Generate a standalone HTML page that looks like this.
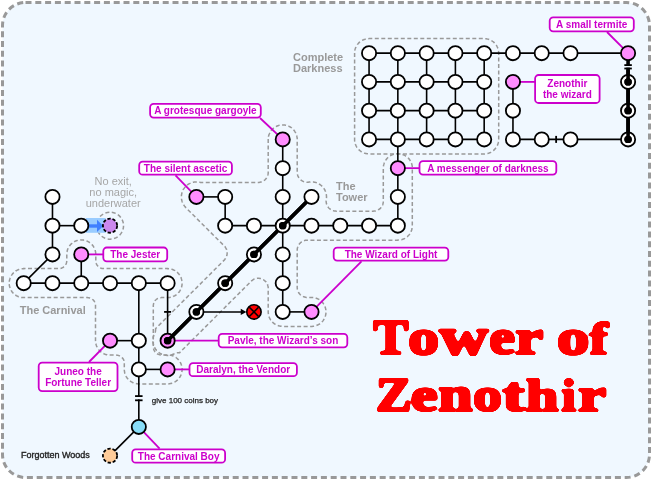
<!DOCTYPE html>
<html><head><meta charset="utf-8"><style>
html,body{margin:0;padding:0;background:#fff;}
svg{display:block;will-change:transform;}
.lb{font-family:"Liberation Sans",sans-serif;font-weight:bold;font-size:10px;fill:#cc00cc;}
.rg{font-family:"Liberation Sans",sans-serif;font-weight:bold;font-size:11px;fill:#999;}
.nx{font-family:"Liberation Sans",sans-serif;font-size:11px;fill:#a6a6a6;text-anchor:middle;}
.sm{font-family:"Liberation Sans",sans-serif;font-size:8px;fill:#222;stroke:#222;stroke-width:0.25;}
.fw{font-family:"Liberation Sans",sans-serif;font-size:9px;fill:#222;stroke:#222;stroke-width:0.35;}
.tt{font-family:"Liberation Serif",serif;font-weight:bold;font-size:49px;fill:#ff0000;stroke:#ff0000;stroke-width:2.6;stroke-linejoin:round;}
</style></head><body>
<svg width="652" height="480" viewBox="0 0 652 480">
<rect x="2.5" y="2.5" width="647" height="475" rx="23" fill="#f0f8ff" stroke="#999" stroke-width="3" stroke-dasharray="6 3.8"/>
<path d="M354.6 53.1 L354.6 139.4 L354.6 140.1 L354.6 140.8 L354.7 141.5 L354.8 142.2 L355.0 142.9 L355.2 143.6 L355.4 144.3 L355.7 144.9 L356.0 145.6 L356.3 146.2 L356.6 146.9 L357.0 147.5 L357.4 148.0 L357.9 148.6 L358.3 149.1 L358.8 149.7 L359.3 150.1 L359.9 150.6 L360.4 151.0 L361.0 151.5 L361.6 151.8 L362.2 152.2 L362.9 152.5 L363.5 152.8 L364.2 153.1 L364.9 153.3 L365.5 153.5 L366.2 153.6 L366.9 153.7 L367.6 153.8 L368.3 153.9 L369.1 153.9 L484.2 153.9 L484.9 153.9 L485.6 153.8 L486.3 153.7 L487.0 153.6 L487.7 153.5 L488.4 153.3 L489.1 153.1 L489.7 152.8 L490.4 152.5 L491.0 152.2 L491.6 151.8 L492.2 151.5 L492.8 151.0 L493.4 150.6 L493.9 150.1 L494.4 149.7 L494.9 149.1 L495.4 148.6 L495.8 148.0 L496.2 147.5 L496.6 146.9 L497.0 146.2 L497.3 145.6 L497.6 144.9 L497.8 144.3 L498.1 143.6 L498.2 142.9 L498.4 142.2 L498.5 141.5 L498.6 140.8 L498.7 140.1 L498.7 139.4 L498.7 53.1 L498.7 52.4 L498.6 51.7 L498.5 51.0 L498.4 50.3 L498.2 49.6 L498.1 48.9 L497.8 48.3 L497.6 47.6 L497.3 47.0 L497.0 46.3 L496.6 45.7 L496.2 45.1 L495.8 44.5 L495.4 44.0 L494.9 43.4 L494.4 42.9 L493.9 42.4 L493.4 41.9 L492.8 41.5 L492.2 41.1 L491.6 40.7 L491.0 40.4 L490.4 40.0 L489.7 39.8 L489.1 39.5 L488.4 39.3 L487.7 39.1 L487.0 38.9 L486.3 38.8 L485.6 38.7 L484.9 38.7 L484.2 38.6 L369.1 38.6 L368.3 38.7 L367.6 38.7 L366.9 38.8 L366.2 38.9 L365.5 39.1 L364.9 39.3 L364.2 39.5 L363.5 39.8 L362.9 40.0 L362.2 40.4 L361.6 40.7 L361.0 41.1 L360.4 41.5 L359.9 41.9 L359.3 42.4 L358.8 42.9 L358.3 43.4 L357.9 44.0 L357.4 44.5 L357.0 45.1 L356.6 45.7 L356.3 46.3 L356.0 47.0 L355.7 47.6 L355.4 48.3 L355.2 48.9 L355.0 49.6 L354.8 50.3 L354.7 51.0 L354.6 51.7 L354.6 52.4 L354.6 53.1 Z" fill="none" stroke="#999999" stroke-width="1.5" stroke-dasharray="4 2.5"/>
<path d="M155.6 328.7 L155.6 329.1 L155.6 329.5 L155.6 330.0 L155.5 330.5 L155.5 331.0 L155.4 331.5 L155.2 332.0 L155.1 332.4 L154.9 332.9 L154.8 333.3 L154.5 333.8 L154.3 334.2 L154.2 334.5 L154.0 334.9 L153.9 335.1 L153.8 335.6 L153.7 335.8 L153.5 336.3 L153.5 336.5 L153.3 336.9 L153.3 337.2 L153.2 337.7 L153.1 337.9 L153.0 338.4 L153.0 338.6 L152.9 339.1 L152.9 339.3 L152.9 339.8 L152.9 340.0 L152.9 340.5 L152.9 340.8 L152.9 341.3 L152.9 341.5 L152.9 342.0 L152.9 342.2 L153.0 342.7 L153.0 342.9 L153.1 343.4 L153.2 343.6 L153.3 344.1 L153.3 344.4 L153.5 344.8 L153.5 345.0 L153.7 345.5 L153.8 345.7 L153.9 346.2 L154.0 346.4 L154.2 346.8 L154.3 347.1 L154.5 347.5 L154.7 347.7 L154.9 348.1 L155.0 348.3 L155.3 348.7 L155.4 348.9 L155.7 349.3 L155.8 349.5 L156.1 349.9 L156.3 350.1 L156.6 350.5 L156.8 350.6 L157.1 351.0 L157.3 351.2 L157.6 351.5 L157.8 351.7 L158.1 352.0 L158.3 352.1 L158.7 352.4 L158.9 352.6 L159.3 352.8 L159.5 353.0 L159.9 353.2 L160.1 353.4 L160.5 353.6 L160.8 353.7 L161.2 353.9 L161.4 354.0 L161.8 354.2 L162.1 354.3 L162.5 354.5 L162.7 354.6 L163.2 354.7 L163.4 354.8 L163.9 354.9 L164.1 355.0 L164.6 355.1 L164.8 355.1 L165.3 355.2 L165.6 355.3 L166.0 355.3 L166.3 355.3 L166.8 355.4 L167.0 355.4 L167.5 355.4 L167.7 355.4 L168.2 355.4 L168.4 355.4 L168.9 355.3 L169.2 355.3 L169.6 355.3 L169.9 355.2 L170.4 355.1 L170.6 355.1 L171.1 355.0 L171.3 354.9 L171.8 354.8 L172.0 354.7 L172.5 354.6 L172.7 354.5 L173.1 354.3 L173.4 354.2 L173.8 354.0 L174.0 353.9 L174.4 353.7 L174.9 353.5 L175.3 353.3 L175.8 353.2 L176.3 353.0 L176.7 352.9 L177.2 352.8 L177.7 352.7 L178.2 352.7 L178.7 352.7 L179.2 352.7 L179.6 352.7 L179.6 352.7 L179.7 352.6 L251.2 281.2 L251.5 280.9 L251.9 280.6 L252.3 280.3 L252.7 280.0 L253.1 279.7 L253.5 279.5 L253.9 279.2 L254.4 279.0 L254.9 278.9 L255.3 278.7 L255.8 278.6 L256.3 278.5 L256.8 278.4 L257.2 278.3 L257.7 278.3 L258.2 278.3 L258.7 278.3 L259.2 278.3 L259.7 278.4 L260.2 278.5 L260.7 278.6 L261.1 278.7 L261.6 278.9 L262.0 279.1 L262.5 279.2 L262.9 279.5 L263.4 279.7 L263.8 280.0 L264.2 280.3 L264.6 280.6 L264.9 280.9 L265.3 281.2 L265.6 281.6 L266.0 281.9 L266.3 282.3 L266.5 282.7 L266.8 283.1 L267.0 283.6 L267.3 284.0 L267.5 284.5 L267.6 284.9 L267.8 285.4 L267.9 285.9 L268.0 286.3 L268.1 286.8 L268.2 287.3 L268.2 287.8 L268.2 288.3 L268.2 311.8 L268.2 312.0 L268.2 312.5 L268.2 312.7 L268.3 313.2 L268.3 313.4 L268.4 313.9 L268.4 314.1 L268.5 314.6 L268.5 314.8 L268.6 315.3 L268.7 315.5 L268.8 316.0 L268.9 316.2 L269.0 316.7 L269.1 316.9 L269.3 317.3 L269.4 317.6 L269.6 318.0 L269.7 318.2 L269.9 318.6 L270.0 318.8 L270.2 319.2 L270.3 319.5 L270.6 319.9 L270.7 320.1 L271.0 320.4 L271.1 320.6 L271.4 321.0 L271.6 321.2 L271.9 321.5 L272.1 321.7 L272.4 322.1 L272.6 322.2 L272.9 322.6 L273.1 322.7 L273.4 323.0 L273.6 323.2 L274.0 323.5 L274.2 323.6 L274.6 323.9 L274.8 324.0 L275.2 324.3 L275.4 324.4 L275.8 324.6 L276.0 324.7 L276.4 325.0 L276.6 325.1 L277.1 325.2 L277.3 325.3 L277.7 325.5 L278.0 325.6 L278.4 325.7 L278.6 325.8 L279.1 325.9 L279.3 326.0 L279.8 326.1 L280.0 326.1 L280.5 326.2 L280.7 326.3 L281.2 326.3 L281.4 326.3 L281.9 326.4 L282.1 326.4 L282.7 326.4 L282.8 326.4 L311.4 326.4 L311.6 326.4 L312.1 326.4 L312.3 326.4 L312.8 326.3 L313.0 326.3 L313.5 326.3 L313.7 326.2 L314.2 326.1 L314.4 326.1 L314.9 326.0 L315.1 325.9 L315.6 325.8 L315.8 325.7 L316.3 325.6 L316.5 325.5 L316.9 325.3 L317.2 325.2 L317.6 325.1 L317.8 325.0 L318.2 324.7 L318.4 324.6 L318.8 324.4 L319.1 324.3 L319.5 324.0 L319.7 323.9 L320.0 323.6 L320.2 323.5 L320.6 323.2 L320.8 323.0 L321.1 322.7 L321.3 322.6 L321.7 322.2 L321.8 322.1 L322.2 321.7 L322.3 321.5 L322.6 321.2 L322.8 321.0 L323.1 320.6 L323.2 320.4 L323.5 320.1 L323.6 319.9 L323.9 319.5 L324.0 319.2 L324.2 318.8 L324.3 318.6 L324.6 318.2 L324.7 318.0 L324.8 317.6 L324.9 317.3 L325.1 316.9 L325.2 316.7 L325.3 316.2 L325.4 316.0 L325.5 315.5 L325.6 315.3 L325.7 314.8 L325.7 314.6 L325.8 314.1 L325.9 313.9 L325.9 313.4 L325.9 313.2 L326.0 312.7 L326.0 312.5 L326.0 312.0 L326.0 311.8 L326.0 311.3 L326.0 311.1 L325.9 310.6 L325.9 310.4 L325.9 309.9 L325.8 309.7 L325.7 309.2 L325.7 309.0 L325.6 308.5 L325.5 308.3 L325.4 307.8 L325.3 307.6 L325.2 307.1 L325.1 306.9 L324.9 306.5 L324.8 306.2 L324.7 305.8 L324.6 305.6 L324.3 305.2 L324.2 305.0 L324.0 304.6 L323.9 304.3 L323.6 303.9 L323.5 303.7 L323.2 303.4 L323.1 303.2 L322.8 302.8 L322.6 302.6 L322.3 302.3 L322.2 302.1 L321.8 301.7 L321.7 301.6 L321.3 301.2 L321.1 301.1 L320.8 300.8 L320.6 300.6 L320.2 300.3 L320.0 300.2 L319.7 299.9 L319.5 299.8 L319.1 299.5 L318.8 299.4 L318.4 299.2 L318.2 299.1 L317.8 298.8 L317.6 298.7 L317.2 298.6 L316.9 298.5 L316.5 298.3 L316.3 298.2 L315.8 298.1 L315.6 298.0 L315.1 297.9 L314.9 297.8 L314.4 297.7 L314.2 297.7 L313.7 297.6 L313.5 297.5 L313.0 297.5 L312.8 297.5 L312.3 297.4 L312.1 297.4 L311.6 297.4 L311.4 297.4 L307.2 297.4 L306.7 297.4 L306.2 297.4 L305.8 297.3 L305.3 297.2 L304.8 297.1 L304.3 297.0 L303.9 296.8 L303.4 296.6 L302.9 296.4 L302.5 296.2 L302.1 296.0 L301.7 295.7 L301.3 295.4 L300.9 295.1 L300.5 294.8 L300.1 294.5 L299.8 294.1 L299.5 293.7 L299.2 293.4 L298.9 293.0 L298.6 292.5 L298.4 292.1 L298.2 291.7 L298.0 291.2 L297.8 290.8 L297.7 290.3 L297.5 289.8 L297.4 289.4 L297.3 288.9 L297.3 288.4 L297.2 287.9 L297.2 287.4 L297.2 250.2 L297.2 249.7 L297.3 249.2 L297.3 248.7 L297.4 248.2 L297.5 247.7 L297.7 247.2 L297.8 246.8 L298.0 246.3 L298.2 245.9 L298.4 245.4 L298.6 245.0 L298.9 244.6 L299.2 244.2 L299.5 243.8 L299.8 243.4 L300.1 243.1 L300.5 242.7 L300.9 242.4 L301.3 242.1 L301.7 241.8 L302.1 241.6 L302.5 241.3 L302.9 241.1 L303.4 240.9 L303.9 240.7 L304.3 240.6 L304.8 240.4 L305.3 240.3 L305.8 240.3 L306.2 240.2 L306.7 240.2 L307.2 240.2 L397.8 240.2 L397.9 240.1 L398.4 240.1 L398.7 240.1 L399.1 240.1 L399.4 240.1 L399.8 240.0 L400.1 240.0 L400.5 239.9 L400.8 239.8 L401.2 239.7 L401.5 239.7 L401.9 239.6 L402.2 239.5 L402.6 239.3 L402.8 239.3 L403.3 239.1 L403.5 239.0 L403.9 238.8 L404.1 238.7 L404.6 238.5 L404.8 238.4 L405.2 238.1 L405.4 238.0 L405.8 237.8 L406.0 237.6 L406.4 237.4 L406.6 237.2 L406.9 236.9 L407.1 236.8 L407.5 236.5 L407.7 236.3 L408.0 236.0 L408.2 235.8 L408.5 235.5 L408.7 235.3 L409.0 234.9 L409.1 234.8 L409.4 234.4 L409.6 234.2 L409.8 233.8 L410.0 233.6 L410.2 233.2 L410.3 233.0 L410.6 232.6 L410.7 232.4 L410.9 232.0 L411.0 231.7 L411.2 231.3 L411.3 231.1 L411.4 230.6 L411.5 230.4 L411.7 230.0 L411.7 229.7 L411.9 229.3 L411.9 229.1 L412.0 228.6 L412.1 228.4 L412.2 227.9 L412.2 227.7 L412.3 227.2 L412.3 226.9 L412.3 226.5 L412.3 226.2 L412.3 225.7 L412.3 225.6 L412.3 168.2 L412.3 168.1 L412.3 167.6 L412.3 167.3 L412.3 166.9 L412.3 166.6 L412.2 166.1 L412.2 165.9 L412.1 165.4 L412.0 165.2 L411.9 164.7 L411.9 164.5 L411.7 164.1 L411.7 163.8 L411.5 163.4 L411.4 163.2 L411.3 162.7 L411.2 162.5 L411.0 162.1 L410.9 161.8 L410.7 161.4 L410.6 161.2 L410.3 160.8 L410.2 160.6 L410.0 160.2 L409.8 160.0 L409.6 159.6 L409.4 159.4 L409.1 159.0 L409.0 158.9 L408.7 158.5 L408.5 158.3 L408.2 158.0 L408.0 157.8 L407.7 157.5 L407.5 157.3 L407.1 157.0 L406.9 156.9 L406.6 156.6 L406.4 156.4 L406.0 156.2 L405.8 156.0 L405.4 155.8 L405.2 155.7 L404.8 155.4 L404.6 155.3 L404.1 155.1 L403.9 155.0 L403.5 154.8 L403.3 154.7 L402.8 154.5 L402.6 154.5 L402.2 154.3 L401.9 154.2 L401.5 154.1 L401.2 154.1 L400.8 154.0 L400.5 153.9 L400.1 153.8 L399.8 153.8 L399.4 153.7 L399.1 153.7 L398.7 153.7 L398.4 153.7 L398.0 153.7 L397.7 153.7 L397.3 153.7 L397.0 153.7 L396.5 153.7 L396.3 153.7 L395.8 153.8 L395.6 153.8 L395.1 153.9 L394.9 154.0 L394.4 154.1 L394.2 154.1 L393.7 154.2 L393.5 154.3 L393.1 154.5 L392.8 154.5 L392.4 154.7 L392.2 154.8 L391.8 155.0 L391.5 155.1 L391.1 155.3 L390.9 155.4 L390.5 155.7 L390.3 155.8 L389.9 156.0 L389.7 156.2 L389.3 156.4 L389.1 156.6 L388.7 156.9 L388.5 157.0 L388.2 157.3 L388.0 157.5 L387.7 157.8 L387.5 158.0 L387.2 158.3 L387.0 158.5 L386.7 158.9 L386.6 159.0 L386.3 159.4 L386.1 159.6 L385.9 160.0 L385.7 160.2 L385.5 160.6 L385.3 160.8 L385.1 161.2 L385.0 161.4 L384.8 161.8 L384.7 162.1 L384.5 162.5 L384.4 162.7 L384.2 163.2 L384.1 163.4 L384.0 163.8 L383.9 164.1 L383.8 164.5 L383.7 164.7 L383.6 165.2 L383.6 165.4 L383.5 165.9 L383.5 166.1 L383.4 166.6 L383.4 166.9 L383.4 167.3 L383.4 167.6 L383.3 168.1 L383.3 168.2 L383.3 201.2 L383.3 201.6 L383.3 202.1 L383.2 202.6 L383.1 203.1 L383.0 203.6 L382.9 204.1 L382.8 204.5 L382.6 205.0 L382.4 205.4 L382.2 205.9 L381.9 206.3 L381.7 206.7 L381.4 207.1 L381.1 207.5 L380.7 207.9 L380.4 208.2 L380.1 208.6 L379.7 208.9 L379.3 209.2 L378.9 209.5 L378.5 209.7 L378.1 210.0 L377.6 210.2 L377.2 210.4 L376.7 210.6 L376.2 210.7 L375.8 210.9 L375.3 211.0 L374.8 211.0 L374.3 211.1 L373.8 211.1 L373.3 211.2 L336.1 211.2 L335.6 211.1 L335.2 211.1 L334.7 211.0 L334.2 211.0 L333.7 210.9 L333.3 210.7 L332.8 210.6 L332.4 210.4 L331.9 210.2 L331.5 210.0 L331.1 209.8 L330.6 209.5 L330.2 209.2 L329.9 208.9 L329.5 208.6 L329.1 208.3 L328.8 208.0 L328.5 207.6 L328.2 207.2 L327.9 206.8 L327.6 206.4 L327.4 206.0 L327.2 205.6 L327.0 205.1 L326.8 204.7 L326.6 204.2 L326.5 203.8 L326.4 203.3 L326.3 202.8 L326.2 202.3 L326.2 201.9 L326.1 201.4 L326.1 200.9 L326.2 200.4 L326.2 199.9 L326.3 199.4 L326.3 199.2 L326.4 199.0 L326.4 198.5 L326.4 198.2 L326.5 197.8 L326.5 197.5 L326.5 197.0 L326.5 196.8 L326.5 196.3 L326.5 196.0 L326.4 195.6 L326.4 195.3 L326.4 194.8 L326.3 194.6 L326.2 194.1 L326.2 193.9 L326.1 193.4 L326.0 193.1 L325.9 192.7 L325.8 192.4 L325.7 192.0 L325.6 191.7 L325.4 191.3 L325.3 191.0 L325.1 190.6 L325.0 190.4 L324.8 189.9 L324.7 189.7 L324.4 189.3 L324.3 189.1 L324.0 188.7 L323.9 188.5 L323.6 188.1 L323.5 187.9 L323.2 187.5 L323.0 187.3 L322.7 186.9 L322.5 186.7 L322.2 186.4 L322.0 186.2 L321.7 185.9 L321.5 185.7 L321.1 185.4 L320.9 185.2 L320.5 184.9 L320.3 184.8 L319.9 184.5 L319.7 184.4 L319.3 184.1 L319.1 184.0 L318.7 183.7 L318.5 183.6 L318.0 183.4 L317.8 183.3 L317.4 183.1 L317.1 183.0 L316.7 182.8 L316.4 182.7 L316.0 182.6 L315.7 182.5 L315.3 182.4 L315.0 182.3 L314.5 182.2 L314.3 182.2 L313.8 182.1 L313.6 182.0 L313.1 182.0 L312.8 182.0 L312.4 181.9 L312.1 181.9 L311.6 181.9 L311.4 181.9 L310.9 181.9 L310.6 181.9 L310.2 182.0 L309.9 182.0 L309.4 182.0 L309.2 182.1 L308.9 182.1 L308.4 182.2 L307.9 182.2 L307.4 182.3 L306.9 182.3 L306.4 182.2 L306.0 182.2 L305.5 182.1 L305.0 182.0 L304.5 181.9 L304.0 181.7 L303.5 181.6 L303.1 181.4 L302.6 181.2 L302.2 180.9 L301.8 180.7 L301.4 180.4 L301.0 180.1 L300.6 179.8 L300.2 179.4 L299.9 179.1 L299.6 178.7 L299.2 178.3 L299.0 177.9 L298.7 177.5 L298.4 177.0 L298.2 176.6 L298.0 176.2 L297.8 175.7 L297.7 175.2 L297.5 174.7 L297.4 174.3 L297.3 173.8 L297.3 173.3 L297.2 172.8 L297.2 172.3 L297.2 139.5 L297.2 139.3 L297.2 138.8 L297.2 138.6 L297.2 138.1 L297.1 137.9 L297.1 137.4 L297.0 137.2 L297.0 136.7 L296.9 136.5 L296.8 136.0 L296.8 135.8 L296.6 135.3 L296.6 135.1 L296.4 134.6 L296.3 134.4 L296.2 134.0 L296.1 133.7 L295.9 133.3 L295.8 133.1 L295.6 132.7 L295.4 132.5 L295.2 132.1 L295.1 131.8 L294.8 131.4 L294.7 131.2 L294.4 130.9 L294.3 130.7 L294.0 130.3 L293.8 130.1 L293.5 129.8 L293.4 129.6 L293.1 129.2 L292.9 129.1 L292.5 128.7 L292.4 128.6 L292.0 128.3 L291.8 128.1 L291.5 127.8 L291.3 127.7 L290.9 127.4 L290.7 127.3 L290.3 127.0 L290.1 126.9 L289.7 126.7 L289.4 126.6 L289.0 126.3 L288.8 126.2 L288.4 126.1 L288.2 126.0 L287.7 125.8 L287.5 125.7 L287.0 125.6 L286.8 125.5 L286.4 125.4 L286.1 125.3 L285.7 125.2 L285.4 125.2 L285.0 125.1 L284.7 125.0 L284.3 125.0 L284.0 125.0 L283.6 124.9 L283.3 124.9 L282.8 124.9 L282.6 124.9 L282.1 124.9 L281.9 124.9 L281.4 125.0 L281.2 125.0 L280.7 125.0 L280.5 125.1 L280.0 125.2 L279.8 125.2 L279.3 125.3 L279.1 125.4 L278.6 125.5 L278.4 125.6 L278.0 125.7 L277.7 125.8 L277.3 126.0 L277.1 126.1 L276.6 126.2 L276.4 126.3 L276.0 126.6 L275.8 126.7 L275.4 126.9 L275.2 127.0 L274.8 127.3 L274.6 127.4 L274.2 127.7 L274.0 127.8 L273.6 128.1 L273.4 128.3 L273.1 128.6 L272.9 128.7 L272.6 129.1 L272.4 129.2 L272.1 129.6 L271.9 129.8 L271.6 130.1 L271.4 130.3 L271.1 130.7 L271.0 130.9 L270.7 131.2 L270.6 131.4 L270.3 131.8 L270.2 132.1 L270.0 132.5 L269.9 132.7 L269.7 133.1 L269.6 133.3 L269.4 133.7 L269.3 134.0 L269.1 134.4 L269.0 134.6 L268.9 135.1 L268.8 135.3 L268.7 135.8 L268.6 136.0 L268.5 136.5 L268.5 136.7 L268.4 137.2 L268.4 137.4 L268.3 137.9 L268.3 138.1 L268.2 138.6 L268.2 138.8 L268.2 139.3 L268.2 139.5 L268.2 172.4 L268.2 172.9 L268.2 173.4 L268.1 173.9 L268.0 174.4 L267.9 174.8 L267.8 175.3 L267.6 175.8 L267.5 176.2 L267.3 176.7 L267.0 177.1 L266.8 177.5 L266.5 178.0 L266.3 178.4 L266.0 178.7 L265.6 179.1 L265.3 179.5 L264.9 179.8 L264.6 180.1 L264.2 180.4 L263.8 180.7 L263.4 181.0 L262.9 181.2 L262.5 181.4 L262.0 181.6 L261.6 181.8 L261.1 182.0 L260.6 182.1 L260.2 182.2 L259.7 182.3 L259.2 182.4 L258.7 182.4 L258.2 182.4 L201.3 182.4 L200.9 182.4 L200.4 182.4 L199.9 182.3 L199.4 182.2 L199.2 182.2 L198.7 182.1 L198.5 182.0 L198.0 182.0 L197.7 182.0 L197.2 181.9 L197.0 181.9 L196.5 181.9 L196.2 181.9 L195.8 181.9 L195.5 181.9 L195.0 182.0 L194.8 182.0 L194.3 182.0 L194.1 182.1 L193.6 182.2 L193.3 182.2 L192.8 182.3 L192.6 182.4 L192.1 182.5 L191.9 182.6 L191.4 182.7 L191.2 182.8 L190.7 183.0 L190.5 183.1 L190.1 183.3 L189.9 183.4 L189.4 183.6 L189.2 183.7 L188.8 184.0 L188.6 184.1 L188.1 184.4 L187.9 184.5 L187.5 184.8 L187.3 184.9 L187.0 185.2 L186.8 185.4 L186.4 185.7 L186.2 185.9 L185.9 186.2 L185.7 186.4 L185.3 186.7 L185.2 186.9 L184.9 187.3 L184.7 187.5 L184.4 187.9 L184.3 188.1 L184.0 188.5 L183.8 188.7 L183.6 189.1 L183.4 189.3 L183.2 189.7 L183.1 189.9 L182.9 190.4 L182.8 190.6 L182.6 191.1 L182.5 191.3 L182.3 191.7 L182.2 192.0 L182.1 192.4 L182.0 192.7 L181.9 193.1 L181.8 193.4 L181.7 193.9 L181.6 194.1 L181.6 194.6 L181.5 194.8 L181.5 195.3 L181.4 195.6 L181.4 196.0 L181.4 196.3 L181.4 196.8 L181.4 197.0 L181.4 197.5 L181.4 197.8 L181.4 198.3 L181.5 198.5 L181.5 199.0 L181.6 199.2 L181.6 199.7 L181.7 200.0 L181.8 200.4 L181.9 200.7 L182.0 201.1 L182.1 201.4 L182.2 201.8 L182.3 202.1 L182.5 202.5 L182.6 202.8 L182.8 203.2 L182.9 203.4 L183.1 203.9 L183.2 204.1 L183.5 204.5 L183.6 204.7 L183.8 205.1 L184.0 205.3 L184.3 205.7 L184.4 205.9 L184.7 206.3 L184.9 206.5 L185.2 206.9 L185.4 207.1 L185.7 207.5 L185.8 207.6 L224.2 245.9 L224.6 246.3 L224.9 246.6 L225.2 247.0 L225.5 247.4 L225.7 247.8 L226.0 248.3 L226.2 248.7 L226.4 249.2 L226.6 249.6 L226.7 250.1 L226.9 250.6 L227.0 251.0 L227.0 251.5 L227.1 252.0 L227.1 252.5 L227.2 253.0 L227.1 253.5 L227.1 254.0 L227.0 254.5 L227.0 254.9 L226.9 255.4 L226.7 255.9 L226.6 256.4 L226.4 256.8 L226.2 257.3 L226.0 257.7 L225.7 258.1 L225.5 258.5 L225.2 258.9 L224.9 259.3 L224.6 259.7 L224.2 260.1 L155.7 328.5 L155.6 328.6 L155.6 328.7 Z" fill="none" stroke="#999999" stroke-width="1.5" stroke-dasharray="4 2.5"/>
<path d="M95.7 253.8 L95.7 253.6 L95.7 253.1 L95.7 252.9 L95.6 252.4 L95.6 252.2 L95.5 251.7 L95.5 251.5 L95.3 251.0 L95.3 250.8 L95.2 250.3 L95.1 250.1 L94.9 249.6 L94.9 249.4 L94.7 248.9 L94.6 248.8 L94.4 248.3 L94.3 248.1 L94.1 247.7 L94.0 247.5 L93.7 247.0 L93.6 246.9 L93.4 246.4 L93.3 246.3 L93.0 245.8 L92.8 245.7 L92.5 245.3 L92.4 245.1 L92.1 244.7 L91.9 244.6 L91.6 244.2 L91.4 244.1 L91.1 243.7 L90.9 243.6 L90.5 243.3 L90.4 243.1 L90.0 242.8 L89.8 242.7 L89.4 242.4 L89.2 242.3 L88.8 242.0 L88.6 241.9 L88.2 241.7 L88.0 241.6 L87.5 241.3 L87.4 241.3 L86.9 241.0 L86.7 241.0 L86.2 240.8 L86.1 240.7 L85.6 240.6 L85.4 240.5 L84.9 240.4 L84.7 240.3 L84.2 240.2 L84.0 240.2 L83.5 240.1 L83.3 240.0 L82.8 240.0 L82.6 240.0 L82.1 239.9 L81.9 239.9 L81.4 239.9 L81.2 239.9 L80.6 239.9 L80.5 239.9 L79.9 240.0 L79.7 240.0 L79.2 240.0 L79.0 240.1 L78.5 240.2 L78.3 240.2 L77.8 240.3 L77.6 240.4 L77.1 240.5 L77.0 240.6 L76.5 240.7 L76.3 240.8 L75.8 241.0 L75.6 241.0 L75.2 241.3 L75.0 241.3 L74.5 241.6 L74.3 241.7 L73.9 241.9 L73.7 242.0 L73.3 242.3 L73.1 242.4 L72.7 242.7 L72.5 242.8 L72.1 243.1 L72.0 243.3 L71.6 243.6 L71.5 243.7 L71.1 244.1 L70.9 244.2 L70.6 244.6 L70.5 244.7 L70.1 245.1 L70.0 245.3 L69.7 245.7 L69.6 245.8 L69.3 246.3 L69.2 246.4 L68.9 246.9 L68.8 247.0 L68.5 247.5 L68.4 247.7 L68.2 248.1 L68.1 248.3 L67.9 248.8 L67.8 248.9 L67.6 249.4 L67.6 249.6 L67.4 250.1 L67.4 250.3 L67.2 250.8 L67.2 251.0 L67.1 251.5 L67.0 251.7 L66.9 252.2 L66.9 252.4 L66.8 252.9 L66.8 253.1 L66.8 253.6 L66.8 253.8 L66.8 254.4 L66.8 254.4 L66.8 260.6 L66.8 261.0 L66.7 261.4 L66.7 261.8 L66.6 262.2 L66.5 262.6 L66.4 263.0 L66.3 263.3 L66.2 263.7 L66.0 264.1 L65.8 264.4 L65.6 264.8 L65.4 265.1 L65.2 265.4 L64.9 265.7 L64.7 266.0 L64.4 266.3 L64.1 266.6 L63.8 266.8 L63.5 267.1 L63.2 267.3 L62.9 267.5 L62.5 267.7 L62.2 267.9 L61.8 268.0 L61.5 268.2 L61.1 268.3 L60.7 268.4 L60.3 268.5 L59.9 268.6 L59.5 268.6 L59.2 268.6 L58.8 268.6 L23.7 268.6 L23.7 268.7 L23.1 268.7 L22.9 268.7 L22.4 268.7 L22.2 268.7 L21.7 268.8 L21.5 268.8 L21.0 268.9 L20.8 269.0 L20.3 269.1 L20.1 269.1 L19.6 269.2 L19.4 269.3 L18.9 269.5 L18.7 269.5 L18.2 269.7 L18.1 269.8 L17.6 270.0 L17.4 270.1 L17.0 270.3 L16.8 270.4 L16.3 270.7 L16.2 270.8 L15.7 271.0 L15.6 271.2 L15.1 271.4 L15.0 271.6 L14.6 271.9 L14.4 272.0 L14.0 272.3 L13.9 272.5 L13.5 272.8 L13.4 273.0 L13.0 273.3 L12.9 273.5 L12.6 273.9 L12.4 274.0 L12.1 274.4 L12.0 274.6 L11.7 275.0 L11.6 275.2 L11.3 275.6 L11.2 275.8 L11.0 276.2 L10.9 276.4 L10.6 276.9 L10.6 277.0 L10.3 277.5 L10.3 277.7 L10.1 278.2 L10.0 278.4 L9.9 278.8 L9.8 279.0 L9.7 279.5 L9.6 279.7 L9.5 280.2 L9.5 280.4 L9.4 280.9 L9.3 281.1 L9.3 281.6 L9.3 281.8 L9.2 282.3 L9.2 282.5 L9.2 283.1 L9.2 283.2 L9.2 283.8 L9.2 284.0 L9.3 284.5 L9.3 284.7 L9.3 285.2 L9.4 285.4 L9.5 285.9 L9.5 286.1 L9.6 286.6 L9.7 286.8 L9.8 287.3 L9.9 287.5 L10.0 287.9 L10.1 288.1 L10.3 288.6 L10.3 288.8 L10.6 289.3 L10.6 289.4 L10.9 289.9 L11.0 290.1 L11.2 290.5 L11.3 290.7 L11.6 291.1 L11.7 291.3 L12.0 291.7 L12.1 291.9 L12.4 292.3 L12.6 292.4 L12.9 292.8 L13.0 293.0 L13.4 293.3 L13.5 293.5 L13.9 293.8 L14.0 294.0 L14.4 294.3 L14.6 294.4 L15.0 294.7 L15.1 294.9 L15.6 295.1 L15.7 295.3 L16.2 295.5 L16.3 295.6 L16.8 295.9 L17.0 296.0 L17.4 296.2 L17.6 296.3 L18.1 296.5 L18.2 296.6 L18.7 296.8 L18.9 296.8 L19.4 297.0 L19.6 297.1 L20.1 297.2 L20.3 297.2 L20.8 297.3 L21.0 297.4 L21.5 297.5 L21.7 297.5 L22.2 297.6 L22.4 297.6 L22.9 297.6 L23.1 297.6 L23.7 297.6 L23.7 297.6 L87.5 297.6 L87.9 297.7 L88.3 297.7 L88.7 297.7 L89.1 297.8 L89.5 297.9 L89.9 298.0 L90.2 298.1 L90.6 298.3 L91.0 298.4 L91.3 298.6 L91.7 298.8 L92.0 299.0 L92.3 299.2 L92.6 299.5 L92.9 299.7 L93.2 300.0 L93.5 300.3 L93.7 300.6 L94.0 300.9 L94.2 301.2 L94.4 301.5 L94.6 301.9 L94.8 302.2 L94.9 302.6 L95.1 303.0 L95.2 303.3 L95.3 303.7 L95.4 304.1 L95.5 304.5 L95.5 304.9 L95.5 305.3 L95.5 305.6 L95.5 340.6 L95.5 340.7 L95.6 341.3 L95.6 341.5 L95.6 342.0 L95.6 342.2 L95.7 342.7 L95.7 342.9 L95.8 343.4 L95.8 343.6 L96.0 344.1 L96.0 344.3 L96.1 344.8 L96.2 345.0 L96.4 345.4 L96.4 345.6 L96.6 346.1 L96.7 346.3 L96.9 346.8 L97.0 346.9 L97.2 347.4 L97.3 347.6 L97.6 348.0 L97.7 348.2 L97.9 348.6 L98.0 348.8 L98.3 349.2 L98.5 349.4 L98.8 349.8 L98.9 349.9 L99.2 350.3 L99.4 350.5 L99.7 350.8 L99.9 351.0 L100.2 351.3 L100.4 351.5 L100.8 351.8 L100.9 351.9 L101.3 352.2 L101.5 352.4 L101.9 352.6 L102.1 352.8 L102.5 353.0 L102.7 353.1 L103.1 353.4 L103.3 353.5 L103.8 353.7 L103.9 353.8 L104.4 354.0 L104.6 354.1 L105.1 354.3 L105.2 354.3 L105.7 354.5 L105.9 354.6 L106.4 354.7 L106.6 354.7 L107.1 354.8 L107.3 354.9 L107.8 355.0 L108.0 355.0 L108.5 355.1 L108.7 355.1 L109.2 355.1 L109.4 355.1 L110.0 355.1 L110.1 355.1 L116.3 355.1 L116.7 355.2 L117.1 355.2 L117.5 355.2 L117.9 355.3 L118.3 355.4 L118.6 355.5 L119.0 355.6 L119.4 355.8 L119.7 355.9 L120.1 356.1 L120.4 356.3 L120.8 356.5 L121.1 356.7 L121.4 357.0 L121.7 357.2 L122.0 357.5 L122.2 357.8 L122.5 358.1 L122.7 358.4 L123.0 358.7 L123.2 359.0 L123.4 359.4 L123.6 359.7 L123.7 360.1 L123.9 360.5 L124.0 360.8 L124.1 361.2 L124.2 361.6 L124.2 362.0 L124.3 362.4 L124.3 362.8 L124.3 363.1 L124.3 369.4 L124.3 369.4 L124.3 370.0 L124.3 370.2 L124.4 370.7 L124.4 370.9 L124.5 371.4 L124.5 371.6 L124.6 372.1 L124.6 372.3 L124.7 372.8 L124.8 373.0 L124.9 373.5 L125.0 373.7 L125.1 374.2 L125.2 374.4 L125.4 374.9 L125.5 375.0 L125.7 375.5 L125.8 375.7 L126.0 376.1 L126.1 376.3 L126.3 376.8 L126.4 376.9 L126.7 377.4 L126.8 377.5 L127.1 378.0 L127.2 378.1 L127.6 378.5 L127.7 378.7 L128.0 379.1 L128.1 379.2 L128.5 379.6 L128.6 379.7 L129.0 380.1 L129.2 380.2 L129.5 380.5 L129.7 380.7 L130.1 381.0 L130.3 381.1 L130.7 381.4 L130.8 381.5 L131.3 381.8 L131.5 381.9 L131.9 382.1 L132.1 382.2 L132.5 382.5 L132.7 382.5 L133.2 382.8 L133.4 382.8 L133.8 383.0 L134.0 383.1 L134.5 383.2 L134.7 383.3 L135.2 383.4 L135.4 383.5 L135.9 383.6 L136.1 383.6 L136.6 383.7 L136.8 383.8 L137.3 383.8 L137.5 383.8 L138.0 383.9 L138.2 383.9 L138.8 383.9 L138.9 383.9 L167.6 383.9 L167.6 383.9 L168.2 383.9 L168.4 383.9 L168.9 383.8 L169.1 383.8 L169.6 383.8 L169.8 383.7 L170.3 383.6 L170.5 383.6 L171.0 383.5 L171.2 383.4 L171.7 383.3 L171.9 383.2 L172.4 383.1 L172.6 383.0 L173.1 382.8 L173.2 382.8 L173.7 382.5 L173.9 382.5 L174.3 382.2 L174.5 382.1 L175.0 381.9 L175.1 381.8 L175.6 381.5 L175.7 381.4 L176.2 381.1 L176.3 381.0 L176.7 380.7 L176.9 380.5 L177.3 380.2 L177.4 380.1 L177.8 379.7 L177.9 379.6 L178.3 379.2 L178.4 379.1 L178.7 378.7 L178.9 378.5 L179.2 378.1 L179.3 378.0 L179.6 377.5 L179.7 377.4 L180.0 376.9 L180.1 376.8 L180.3 376.3 L180.4 376.1 L180.7 375.7 L180.7 375.5 L181.0 375.0 L181.0 374.9 L181.2 374.4 L181.3 374.2 L181.4 373.7 L181.5 373.5 L181.6 373.0 L181.7 372.8 L181.8 372.3 L181.8 372.1 L181.9 371.6 L182.0 371.4 L182.0 370.9 L182.0 370.7 L182.1 370.2 L182.1 370.0 L182.1 369.5 L182.1 369.3 L182.1 368.8 L182.1 368.6 L182.0 368.1 L182.0 367.9 L182.0 367.4 L181.9 367.2 L181.8 366.7 L181.8 366.5 L181.7 366.0 L181.6 365.8 L181.5 365.3 L181.4 365.1 L181.3 364.6 L181.2 364.4 L181.0 363.9 L181.0 363.8 L180.7 363.3 L180.7 363.1 L180.4 362.7 L180.3 362.5 L180.1 362.0 L180.0 361.9 L179.7 361.4 L179.6 361.3 L179.3 360.8 L179.2 360.7 L178.9 360.3 L178.7 360.1 L178.4 359.7 L178.3 359.6 L177.9 359.2 L177.8 359.1 L177.4 358.7 L177.3 358.6 L176.9 358.3 L176.7 358.1 L176.3 357.8 L176.2 357.7 L175.7 357.4 L175.6 357.3 L175.1 357.0 L175.0 356.9 L174.5 356.7 L174.3 356.6 L173.9 356.3 L173.7 356.3 L173.2 356.0 L173.1 356.0 L172.6 355.8 L172.4 355.7 L171.9 355.6 L171.7 355.5 L171.2 355.4 L171.0 355.3 L170.5 355.2 L170.3 355.2 L169.8 355.1 L169.6 355.0 L169.1 355.0 L168.9 355.0 L168.4 354.9 L168.2 354.9 L167.6 354.9 L167.6 354.9 L161.3 354.9 L160.9 354.9 L160.5 354.9 L160.1 354.8 L159.8 354.7 L159.4 354.7 L159.0 354.6 L158.6 354.4 L158.3 354.3 L157.9 354.1 L157.5 354.0 L157.2 353.8 L156.9 353.6 L156.6 353.3 L156.2 353.1 L155.9 352.8 L155.7 352.6 L155.4 352.3 L155.1 352.0 L154.9 351.7 L154.7 351.3 L154.5 351.0 L154.3 350.7 L154.1 350.3 L153.9 350.0 L153.8 349.6 L153.7 349.2 L153.6 348.8 L153.5 348.5 L153.4 348.1 L153.4 347.7 L153.3 347.3 L153.3 346.9 L153.3 305.6 L153.3 305.3 L153.4 304.9 L153.4 304.5 L153.5 304.1 L153.6 303.7 L153.7 303.3 L153.8 303.0 L153.9 302.6 L154.1 302.2 L154.3 301.9 L154.5 301.5 L154.7 301.2 L154.9 300.9 L155.1 300.6 L155.4 300.3 L155.7 300.0 L155.9 299.7 L156.2 299.5 L156.6 299.2 L156.9 299.0 L157.2 298.8 L157.5 298.6 L157.9 298.4 L158.3 298.3 L158.6 298.1 L159.0 298.0 L159.4 297.9 L159.8 297.8 L160.1 297.7 L160.5 297.7 L160.9 297.7 L161.3 297.6 L167.6 297.6 L167.6 297.6 L168.2 297.6 L168.4 297.6 L168.9 297.6 L169.1 297.6 L169.6 297.5 L169.8 297.5 L170.3 297.4 L170.5 297.3 L171.0 297.2 L171.2 297.2 L171.7 297.1 L171.9 297.0 L172.4 296.8 L172.6 296.8 L173.1 296.6 L173.2 296.5 L173.7 296.3 L173.9 296.2 L174.3 296.0 L174.5 295.9 L175.0 295.6 L175.1 295.5 L175.6 295.3 L175.7 295.1 L176.2 294.9 L176.3 294.7 L176.7 294.4 L176.9 294.3 L177.3 294.0 L177.4 293.8 L177.8 293.5 L177.9 293.3 L178.3 293.0 L178.4 292.8 L178.7 292.4 L178.9 292.3 L179.2 291.9 L179.3 291.7 L179.6 291.3 L179.7 291.1 L180.0 290.7 L180.1 290.5 L180.3 290.1 L180.4 289.9 L180.7 289.4 L180.7 289.3 L181.0 288.8 L181.0 288.6 L181.2 288.1 L181.3 287.9 L181.4 287.5 L181.5 287.3 L181.6 286.8 L181.7 286.6 L181.8 286.1 L181.8 285.9 L181.9 285.4 L182.0 285.2 L182.0 284.7 L182.0 284.5 L182.1 284.0 L182.1 283.8 L182.1 283.2 L182.1 283.1 L182.1 282.5 L182.1 282.3 L182.0 281.8 L182.0 281.6 L182.0 281.1 L181.9 280.9 L181.8 280.4 L181.8 280.2 L181.7 279.7 L181.6 279.5 L181.5 279.0 L181.4 278.8 L181.3 278.4 L181.2 278.2 L181.0 277.7 L181.0 277.5 L180.7 277.0 L180.7 276.9 L180.4 276.4 L180.3 276.2 L180.1 275.8 L180.0 275.6 L179.7 275.2 L179.6 275.0 L179.3 274.6 L179.2 274.4 L178.9 274.0 L178.7 273.9 L178.4 273.5 L178.3 273.3 L177.9 273.0 L177.8 272.8 L177.4 272.5 L177.3 272.3 L176.9 272.0 L176.7 271.9 L176.3 271.6 L176.2 271.4 L175.7 271.2 L175.6 271.0 L175.1 270.8 L175.0 270.7 L174.5 270.4 L174.3 270.3 L173.9 270.1 L173.7 270.0 L173.2 269.8 L173.1 269.7 L172.6 269.5 L172.4 269.5 L171.9 269.3 L171.7 269.2 L171.2 269.1 L171.0 269.1 L170.5 269.0 L170.3 268.9 L169.8 268.8 L169.6 268.8 L169.1 268.7 L168.9 268.7 L168.4 268.7 L168.2 268.7 L167.6 268.7 L167.6 268.6 L103.8 268.6 L103.4 268.6 L103.0 268.6 L102.6 268.6 L102.2 268.5 L101.8 268.4 L101.4 268.3 L101.1 268.2 L100.7 268.0 L100.3 267.9 L100.0 267.7 L99.6 267.5 L99.3 267.3 L99.0 267.1 L98.7 266.8 L98.4 266.6 L98.1 266.3 L97.8 266.0 L97.6 265.7 L97.3 265.4 L97.1 265.1 L96.9 264.8 L96.7 264.4 L96.5 264.1 L96.4 263.7 L96.2 263.3 L96.1 263.0 L96.0 262.6 L95.9 262.2 L95.8 261.8 L95.8 261.4 L95.8 261.0 L95.8 260.6 L95.8 254.4 L95.8 254.4 L95.7 253.8 Z" fill="none" stroke="#999999" stroke-width="1.5" stroke-dasharray="4 2.5"/>
<circle cx="110.04" cy="225.65" r="13.5" fill="none" stroke="#999999" stroke-width="1.5" stroke-dasharray="4 2.5"/>
<line x1="607.00" y1="32.00" x2="628.08" y2="53.15" stroke="#cc00cc" stroke-width="1.8"/>
<line x1="512.96" y1="81.90" x2="535.00" y2="81.90" stroke="#cc00cc" stroke-width="1.8"/>
<line x1="397.84" y1="168.15" x2="419.00" y2="168.15" stroke="#cc00cc" stroke-width="1.8"/>
<line x1="260.00" y1="118.00" x2="282.72" y2="139.40" stroke="#cc00cc" stroke-width="1.8"/>
<line x1="175.50" y1="175.40" x2="196.38" y2="196.90" stroke="#cc00cc" stroke-width="1.8"/>
<line x1="361.50" y1="261.30" x2="311.50" y2="311.90" stroke="#cc00cc" stroke-width="1.8"/>
<line x1="167.60" y1="340.65" x2="218.00" y2="340.65" stroke="#cc00cc" stroke-width="1.8"/>
<line x1="81.26" y1="254.40" x2="103.00" y2="254.40" stroke="#cc00cc" stroke-width="1.8"/>
<line x1="89.00" y1="362.00" x2="110.04" y2="340.65" stroke="#cc00cc" stroke-width="1.8"/>
<line x1="167.60" y1="369.40" x2="189.00" y2="369.40" stroke="#cc00cc" stroke-width="1.8"/>
<line x1="138.82" y1="426.90" x2="159.60" y2="448.60" stroke="#cc00cc" stroke-width="1.8"/>
<rect x="85.7" y="218" width="20" height="14.8" fill="#99ccff"/>
<line x1="369.06" y1="53.15" x2="369.06" y2="139.40" stroke="#000" stroke-width="1.6"/>
<line x1="397.84" y1="53.15" x2="397.84" y2="139.40" stroke="#000" stroke-width="1.6"/>
<line x1="426.62" y1="53.15" x2="426.62" y2="139.40" stroke="#000" stroke-width="1.6"/>
<line x1="455.40" y1="53.15" x2="455.40" y2="139.40" stroke="#000" stroke-width="1.6"/>
<line x1="484.18" y1="53.15" x2="484.18" y2="139.40" stroke="#000" stroke-width="1.6"/>
<line x1="369.06" y1="53.15" x2="484.18" y2="53.15" stroke="#000" stroke-width="1.6"/>
<line x1="369.06" y1="81.90" x2="484.18" y2="81.90" stroke="#000" stroke-width="1.6"/>
<line x1="369.06" y1="110.65" x2="484.18" y2="110.65" stroke="#000" stroke-width="1.6"/>
<line x1="369.06" y1="139.40" x2="484.18" y2="139.40" stroke="#000" stroke-width="1.6"/>
<line x1="484.18" y1="53.15" x2="628.08" y2="53.15" stroke="#000" stroke-width="1.6"/>
<line x1="512.96" y1="139.40" x2="628.08" y2="139.40" stroke="#000" stroke-width="1.6"/>
<line x1="512.96" y1="81.90" x2="512.96" y2="139.40" stroke="#000" stroke-width="1.6"/>
<line x1="397.84" y1="139.40" x2="397.84" y2="225.65" stroke="#000" stroke-width="1.6"/>
<line x1="225.16" y1="225.65" x2="397.84" y2="225.65" stroke="#000" stroke-width="1.6"/>
<line x1="282.72" y1="139.40" x2="282.72" y2="311.90" stroke="#000" stroke-width="1.6"/>
<line x1="282.72" y1="311.90" x2="311.50" y2="311.90" stroke="#000" stroke-width="1.6"/>
<line x1="196.38" y1="196.90" x2="225.16" y2="196.90" stroke="#000" stroke-width="1.6"/>
<line x1="225.16" y1="196.90" x2="225.16" y2="225.65" stroke="#000" stroke-width="1.6"/>
<line x1="23.70" y1="283.15" x2="167.60" y2="283.15" stroke="#000" stroke-width="1.6"/>
<line x1="81.26" y1="254.40" x2="81.26" y2="283.15" stroke="#000" stroke-width="1.6"/>
<line x1="23.70" y1="283.15" x2="52.48" y2="254.40" stroke="#000" stroke-width="1.6"/>
<line x1="52.48" y1="196.90" x2="52.48" y2="254.40" stroke="#000" stroke-width="1.6"/>
<line x1="52.48" y1="225.65" x2="81.26" y2="225.65" stroke="#000" stroke-width="1.6"/>
<line x1="138.82" y1="283.15" x2="138.82" y2="426.90" stroke="#000" stroke-width="1.6"/>
<line x1="110.04" y1="340.65" x2="138.82" y2="340.65" stroke="#000" stroke-width="1.6"/>
<line x1="138.82" y1="369.40" x2="167.60" y2="369.40" stroke="#000" stroke-width="1.6"/>
<line x1="138.82" y1="426.90" x2="110.04" y2="455.65" stroke="#000" stroke-width="1.6"/>
<line x1="167.60" y1="283.15" x2="167.60" y2="340.65" stroke="#000" stroke-width="1.6"/>
<line x1="311.50" y1="196.90" x2="167.60" y2="340.65" stroke="#000" stroke-width="3.6"/>
<line x1="628.08" y1="53.15" x2="628.08" y2="139.40" stroke="#000" stroke-width="3.6"/>
<rect x="625.08" y="66.00" width="6.00" height="1.60" fill="#f0f8ff"/>
<rect x="624.33" y="64.20" width="7.50" height="1.80" fill="#000"/>
<rect x="624.33" y="67.60" width="7.50" height="1.80" fill="#000"/>
<rect x="135.82" y="397.00" width="6.00" height="2.40" fill="#f0f8ff"/>
<rect x="135.07" y="395.20" width="7.50" height="1.80" fill="#000"/>
<rect x="135.07" y="399.40" width="7.50" height="1.80" fill="#000"/>
<rect x="164.10" y="311.00" width="7.00" height="1.8" fill="#000"/>
<rect x="555.23" y="135.90" width="1.8" height="7.00" fill="#000"/>
<line x1="196.38" y1="311.90" x2="242.94" y2="311.90" stroke="#000" stroke-width="1.5"/>
<path d="M246.34 311.90 L240.74 308.80 L240.74 315.00 Z" fill="#000"/>
<rect x="89" y="224.3" width="9" height="3.4" fill="#4080ff"/>
<path d="M97 219.8 L103.2 225.9 L97 232 Z" fill="#4080ff"/>
<circle cx="23.70" cy="283.15" r="7.1" fill="#fff" stroke="#000" stroke-width="1.8"/>
<circle cx="52.48" cy="196.90" r="7.1" fill="#fff" stroke="#000" stroke-width="1.8"/>
<circle cx="52.48" cy="225.65" r="7.1" fill="#fff" stroke="#000" stroke-width="1.8"/>
<circle cx="52.48" cy="254.40" r="7.1" fill="#fff" stroke="#000" stroke-width="1.8"/>
<circle cx="52.48" cy="283.15" r="7.1" fill="#fff" stroke="#000" stroke-width="1.8"/>
<circle cx="81.26" cy="225.65" r="7.1" fill="#fff" stroke="#000" stroke-width="1.8"/>
<circle cx="81.26" cy="254.40" r="7.1" fill="#ff8cff" stroke="#000" stroke-width="1.8"/>
<circle cx="81.26" cy="283.15" r="7.1" fill="#fff" stroke="#000" stroke-width="1.8"/>
<circle cx="110.04" cy="283.15" r="7.1" fill="#fff" stroke="#000" stroke-width="1.8"/>
<circle cx="110.04" cy="340.65" r="7.1" fill="#ff8cff" stroke="#000" stroke-width="1.8"/>
<circle cx="138.82" cy="283.15" r="7.1" fill="#fff" stroke="#000" stroke-width="1.8"/>
<circle cx="138.82" cy="340.65" r="7.1" fill="#fff" stroke="#000" stroke-width="1.8"/>
<circle cx="138.82" cy="369.40" r="7.1" fill="#fff" stroke="#000" stroke-width="1.8"/>
<circle cx="167.60" cy="283.15" r="7.1" fill="#fff" stroke="#000" stroke-width="1.8"/>
<circle cx="167.60" cy="340.65" r="7.1" fill="#ff8cff" stroke="#000" stroke-width="1.8"/>
<circle cx="167.60" cy="340.65" r="3.7" fill="#000"/>
<circle cx="167.60" cy="369.40" r="7.1" fill="#ff8cff" stroke="#000" stroke-width="1.8"/>
<circle cx="196.38" cy="196.90" r="7.1" fill="#ff8cff" stroke="#000" stroke-width="1.8"/>
<circle cx="196.38" cy="311.90" r="7.1" fill="#fff" stroke="#000" stroke-width="1.8"/>
<circle cx="196.38" cy="311.90" r="3.7" fill="#000"/>
<circle cx="225.16" cy="196.90" r="7.1" fill="#fff" stroke="#000" stroke-width="1.8"/>
<circle cx="225.16" cy="225.65" r="7.1" fill="#fff" stroke="#000" stroke-width="1.8"/>
<circle cx="225.16" cy="283.15" r="7.1" fill="#fff" stroke="#000" stroke-width="1.8"/>
<circle cx="225.16" cy="283.15" r="3.7" fill="#000"/>
<circle cx="253.94" cy="225.65" r="7.1" fill="#fff" stroke="#000" stroke-width="1.8"/>
<circle cx="253.94" cy="254.40" r="7.1" fill="#fff" stroke="#000" stroke-width="1.8"/>
<circle cx="253.94" cy="254.40" r="3.7" fill="#000"/>
<circle cx="282.72" cy="139.40" r="7.1" fill="#ff8cff" stroke="#000" stroke-width="1.8"/>
<circle cx="282.72" cy="168.15" r="7.1" fill="#fff" stroke="#000" stroke-width="1.8"/>
<circle cx="282.72" cy="196.90" r="7.1" fill="#fff" stroke="#000" stroke-width="1.8"/>
<circle cx="282.72" cy="225.65" r="7.1" fill="#fff" stroke="#000" stroke-width="1.8"/>
<circle cx="282.72" cy="225.65" r="3.7" fill="#000"/>
<circle cx="282.72" cy="254.40" r="7.1" fill="#fff" stroke="#000" stroke-width="1.8"/>
<circle cx="282.72" cy="283.15" r="7.1" fill="#fff" stroke="#000" stroke-width="1.8"/>
<circle cx="282.72" cy="311.90" r="7.1" fill="#fff" stroke="#000" stroke-width="1.8"/>
<circle cx="311.50" cy="196.90" r="7.1" fill="#fff" stroke="#000" stroke-width="1.8"/>
<circle cx="311.50" cy="225.65" r="7.1" fill="#fff" stroke="#000" stroke-width="1.8"/>
<circle cx="311.50" cy="311.90" r="7.1" fill="#ff8cff" stroke="#000" stroke-width="1.8"/>
<circle cx="340.28" cy="225.65" r="7.1" fill="#fff" stroke="#000" stroke-width="1.8"/>
<circle cx="369.06" cy="53.15" r="7.1" fill="#fff" stroke="#000" stroke-width="1.8"/>
<circle cx="369.06" cy="81.90" r="7.1" fill="#fff" stroke="#000" stroke-width="1.8"/>
<circle cx="369.06" cy="110.65" r="7.1" fill="#fff" stroke="#000" stroke-width="1.8"/>
<circle cx="369.06" cy="139.40" r="7.1" fill="#fff" stroke="#000" stroke-width="1.8"/>
<circle cx="369.06" cy="225.65" r="7.1" fill="#fff" stroke="#000" stroke-width="1.8"/>
<circle cx="397.84" cy="53.15" r="7.1" fill="#fff" stroke="#000" stroke-width="1.8"/>
<circle cx="397.84" cy="81.90" r="7.1" fill="#fff" stroke="#000" stroke-width="1.8"/>
<circle cx="397.84" cy="110.65" r="7.1" fill="#fff" stroke="#000" stroke-width="1.8"/>
<circle cx="397.84" cy="139.40" r="7.1" fill="#fff" stroke="#000" stroke-width="1.8"/>
<circle cx="397.84" cy="168.15" r="7.1" fill="#ff8cff" stroke="#000" stroke-width="1.8"/>
<circle cx="397.84" cy="196.90" r="7.1" fill="#fff" stroke="#000" stroke-width="1.8"/>
<circle cx="397.84" cy="225.65" r="7.1" fill="#fff" stroke="#000" stroke-width="1.8"/>
<circle cx="426.62" cy="53.15" r="7.1" fill="#fff" stroke="#000" stroke-width="1.8"/>
<circle cx="426.62" cy="81.90" r="7.1" fill="#fff" stroke="#000" stroke-width="1.8"/>
<circle cx="426.62" cy="110.65" r="7.1" fill="#fff" stroke="#000" stroke-width="1.8"/>
<circle cx="426.62" cy="139.40" r="7.1" fill="#fff" stroke="#000" stroke-width="1.8"/>
<circle cx="455.40" cy="53.15" r="7.1" fill="#fff" stroke="#000" stroke-width="1.8"/>
<circle cx="455.40" cy="81.90" r="7.1" fill="#fff" stroke="#000" stroke-width="1.8"/>
<circle cx="455.40" cy="110.65" r="7.1" fill="#fff" stroke="#000" stroke-width="1.8"/>
<circle cx="455.40" cy="139.40" r="7.1" fill="#fff" stroke="#000" stroke-width="1.8"/>
<circle cx="484.18" cy="53.15" r="7.1" fill="#fff" stroke="#000" stroke-width="1.8"/>
<circle cx="484.18" cy="81.90" r="7.1" fill="#fff" stroke="#000" stroke-width="1.8"/>
<circle cx="484.18" cy="110.65" r="7.1" fill="#fff" stroke="#000" stroke-width="1.8"/>
<circle cx="484.18" cy="139.40" r="7.1" fill="#fff" stroke="#000" stroke-width="1.8"/>
<circle cx="512.96" cy="53.15" r="7.1" fill="#fff" stroke="#000" stroke-width="1.8"/>
<circle cx="512.96" cy="81.90" r="7.1" fill="#ff8cff" stroke="#000" stroke-width="1.8"/>
<circle cx="512.96" cy="110.65" r="7.1" fill="#fff" stroke="#000" stroke-width="1.8"/>
<circle cx="512.96" cy="139.40" r="7.1" fill="#fff" stroke="#000" stroke-width="1.8"/>
<circle cx="541.74" cy="53.15" r="7.1" fill="#fff" stroke="#000" stroke-width="1.8"/>
<circle cx="541.74" cy="139.40" r="7.1" fill="#fff" stroke="#000" stroke-width="1.8"/>
<circle cx="570.52" cy="53.15" r="7.1" fill="#fff" stroke="#000" stroke-width="1.8"/>
<circle cx="570.52" cy="139.40" r="7.1" fill="#fff" stroke="#000" stroke-width="1.8"/>
<circle cx="628.08" cy="53.15" r="7.1" fill="#ff8cff" stroke="#000" stroke-width="1.8"/>
<circle cx="628.08" cy="81.90" r="7.1" fill="#fff" stroke="#000" stroke-width="1.8"/>
<circle cx="628.08" cy="81.90" r="3.7" fill="#000"/>
<circle cx="628.08" cy="110.65" r="7.1" fill="#fff" stroke="#000" stroke-width="1.8"/>
<circle cx="628.08" cy="110.65" r="3.7" fill="#000"/>
<circle cx="628.08" cy="139.40" r="7.1" fill="#fff" stroke="#000" stroke-width="1.8"/>
<circle cx="628.08" cy="139.40" r="3.7" fill="#000"/>
<circle cx="110.04" cy="225.65" r="7.1" fill="#cc88ee" stroke="#000" stroke-width="1.8" stroke-dasharray="3.3 1.8"/>
<circle cx="110.04" cy="455.65" r="7.1" fill="#ffcc99" stroke="#000" stroke-width="1.8" stroke-dasharray="3.3 1.8"/>
<circle cx="138.82" cy="426.90" r="7.1" fill="#88ddf8" stroke="#000" stroke-width="1.8"/>
<line x1="306.19" y1="202.20" x2="282.72" y2="225.65" stroke="#000" stroke-width="3.6"/>
<circle cx="282.72" cy="225.65" r="3.7" fill="#000"/>
<line x1="277.41" y1="230.95" x2="253.94" y2="254.40" stroke="#000" stroke-width="3.6"/>
<circle cx="253.94" cy="254.40" r="3.7" fill="#000"/>
<line x1="248.63" y1="259.70" x2="225.16" y2="283.15" stroke="#000" stroke-width="3.6"/>
<circle cx="225.16" cy="283.15" r="3.7" fill="#000"/>
<line x1="219.85" y1="288.45" x2="196.38" y2="311.90" stroke="#000" stroke-width="3.6"/>
<circle cx="196.38" cy="311.90" r="3.7" fill="#000"/>
<line x1="191.07" y1="317.20" x2="167.60" y2="340.65" stroke="#000" stroke-width="3.6"/>
<circle cx="167.60" cy="340.65" r="3.7" fill="#000"/>
<line x1="628.08" y1="89.40" x2="628.08" y2="110.65" stroke="#000" stroke-width="3.6"/>
<circle cx="628.08" cy="110.65" r="3.7" fill="#000"/>
<line x1="628.08" y1="118.15" x2="628.08" y2="139.40" stroke="#000" stroke-width="3.6"/>
<circle cx="628.08" cy="139.40" r="3.7" fill="#000"/>
<line x1="628.08" y1="69.5" x2="628.08" y2="81.90" stroke="#000" stroke-width="3.6"/>
<circle cx="628.08" cy="81.90" r="3.7" fill="#000"/>
<circle cx="253.94" cy="311.90" r="7.2" fill="#ff0000" stroke="#000" stroke-width="1.6"/>
<path d="M249.34 307.30 L258.54 316.50 M258.54 307.30 L249.34 316.50" stroke="#000" stroke-width="1.6"/>
<rect x="549.70" y="17.30" width="84.10" height="14.00" rx="3.5" fill="#fff" stroke="#cc00cc" stroke-width="1.8"/>
<text x="591.75" y="27.90" text-anchor="middle" class="lb">A small termite</text>
<rect x="535.10" y="75.00" width="64.50" height="28.00" rx="3.5" fill="#fff" stroke="#cc00cc" stroke-width="1.8"/>
<text x="567.35" y="87.20" text-anchor="middle" class="lb">Zenothir</text>
<text x="567.35" y="98.00" text-anchor="middle" class="lb">the wizard</text>
<rect x="419.50" y="161.20" width="136.80" height="13.40" rx="3.5" fill="#fff" stroke="#cc00cc" stroke-width="1.8"/>
<text x="487.90" y="171.50" text-anchor="middle" class="lb">A messenger of darkness</text>
<rect x="150.10" y="103.90" width="110.70" height="13.70" rx="3.5" fill="#fff" stroke="#cc00cc" stroke-width="1.8"/>
<text x="205.45" y="114.35" text-anchor="middle" class="lb">A grotesque gargoyle</text>
<rect x="139.20" y="161.70" width="92.70" height="13.00" rx="3.5" fill="#fff" stroke="#cc00cc" stroke-width="1.8"/>
<text x="185.55" y="171.80" text-anchor="middle" class="lb">The silent ascetic</text>
<rect x="333.70" y="247.70" width="114.60" height="12.90" rx="3.5" fill="#fff" stroke="#cc00cc" stroke-width="1.8"/>
<text x="391.00" y="257.75" text-anchor="middle" class="lb">The Wizard of Light</text>
<rect x="218.70" y="333.90" width="128.60" height="13.40" rx="3.5" fill="#fff" stroke="#cc00cc" stroke-width="1.8"/>
<text x="283.00" y="344.20" text-anchor="middle" class="lb">Pavle, the Wizard’s son</text>
<rect x="103.30" y="247.50" width="63.90" height="13.80" rx="3.5" fill="#fff" stroke="#cc00cc" stroke-width="1.8"/>
<text x="135.25" y="258.00" text-anchor="middle" class="lb">The Jester</text>
<rect x="38.70" y="362.60" width="78.80" height="28.50" rx="3.5" fill="#fff" stroke="#cc00cc" stroke-width="1.8"/>
<text x="78.10" y="375.05" text-anchor="middle" class="lb">Juneo the</text>
<text x="78.10" y="385.85" text-anchor="middle" class="lb">Fortune Teller</text>
<rect x="189.50" y="363.10" width="107.40" height="13.10" rx="3.5" fill="#fff" stroke="#cc00cc" stroke-width="1.8"/>
<text x="243.20" y="373.25" text-anchor="middle" class="lb">Daralyn, the Vendor</text>
<rect x="132.20" y="449.40" width="92.90" height="13.30" rx="3.5" fill="#fff" stroke="#cc00cc" stroke-width="1.8"/>
<text x="178.65" y="459.65" text-anchor="middle" class="lb">The Carnival Boy</text>
<text x="293" y="61.0" class="rg">Complete</text>
<text x="293" y="72.3" class="rg">Darkness</text>
<text x="336" y="189.7" class="rg">The</text>
<text x="336" y="200.8" class="rg">Tower</text>
<text x="19.7" y="314" class="rg">The Carnival</text>
<text x="113.2" y="184.5" class="nx">No exit,</text>
<text x="113.2" y="195.6" class="nx">no magic,</text>
<text x="113.2" y="206.7" class="nx">underwater</text>
<text x="151.8" y="403.4" class="sm">give 100 coins boy</text>
<text x="20.9" y="458.3" class="fw">Forgotten Woods</text>
<defs><filter id="goo" x="-10%" y="-30%" width="120%" height="160%"><feGaussianBlur in="SourceGraphic" stdDeviation="1.2" result="b"/><feColorMatrix in="b" type="matrix" values="0 0 0 0 1  0 0 0 0 0  0 0 0 0 0  0 0 0 6 -2.6"/></filter></defs><g filter="url(#goo)">
<text transform="translate(373.31 353.70) scale(1.072 1.034)" class="tt">T</text>
<text transform="translate(408.33 353.70) scale(1.259 1.016)" class="tt">o</text>
<text transform="translate(439.46 353.70) scale(1.377 1.074)" class="tt">w</text>
<text transform="translate(489.26 353.70) scale(1.187 1.051)" class="tt">e</text>
<text transform="translate(515.22 353.70) scale(1.286 1.048)" class="tt">r</text>
<text transform="translate(556.91 353.70) scale(1.322 1.016)" class="tt">o</text>
<text transform="translate(589.52 353.70) scale(1.134 0.938)" class="tt">f</text>
<text transform="translate(375.71 410.90) scale(1.098 1.006)" class="tt">Z</text>
<text transform="translate(410.67 410.90) scale(1.240 1.003)" class="tt">e</text>
<text transform="translate(438.25 410.90) scale(1.264 1.025)" class="tt">n</text>
<text transform="translate(472.98 410.90) scale(1.186 1.003)" class="tt">o</text>
<text transform="translate(502.29 410.90) scale(1.380 1.004)" class="tt">t</text>
<text transform="translate(525.82 410.90) scale(1.205 0.951)" class="tt">h</text>
<text transform="translate(561.14 410.90) scale(1.083 0.928)" class="tt">i</text>
<text transform="translate(578.01 410.90) scale(1.297 0.997)" class="tt">r</text>
</g>
</svg>
</body></html>
